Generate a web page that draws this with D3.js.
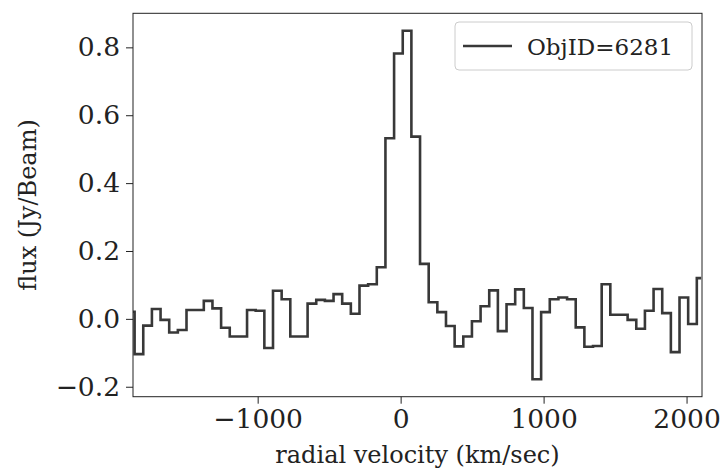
<!DOCTYPE html>
<html>
<head>
<meta charset="utf-8">
<script src="https://cdn.jsdelivr.net/npm/d3@7"></script>
<style>
  body { margin: 0; background: #fff; }
  svg { display: block; }
  text { font-family: "DejaVu Serif", serif; fill: #222; }
</style>
</head>
<body>
<svg id="chart" width="723" height="470"></svg>
<script>
// Channel centres of the spectrum (km/s)
const velocity = [
  -1891, -1830.5, -1770, -1709.5, -1649, -1588.5, -1528, -1467.5, -1407, -1346.5,
  -1286, -1225.5, -1165, -1104.5, -1044, -983.5, -923, -862.5, -802, -741.5,
  -681, -620.5, -560, -499.5, -439, -378.5, -318, -257.5, -197, -136.5,
  -76, -15.5, 45, 105.5, 166, 226.5, 287, 347.5, 408, 468.5,
  529, 589.5, 650, 710.5, 771, 831.5, 892, 952.5, 1013, 1073.5,
  1134, 1194.5, 1255, 1315.5, 1376, 1436.5, 1497, 1557.5, 1618, 1678.5,
  1739, 1799.5, 1860, 1920.5, 1981, 2041.5, 2102
];

// Flux per channel (Jy/Beam)
const flux = [
  0.021, -0.104, -0.020, 0.029, -0.003, -0.040, -0.033, 0.026, 0.026, 0.053,
  0.031, -0.026, -0.052, -0.052, 0.026, 0.024, -0.086, 0.083, 0.058, -0.052,
  -0.052, 0.045, 0.056, 0.053, 0.073, 0.045, 0.015, 0.098, 0.102, 0.152,
  0.532, 0.782, 0.849, 0.537, 0.162, 0.049, 0.020, -0.021, -0.081, -0.052,
  -0.007, 0.037, 0.084, -0.036, 0.043, 0.087, 0.032, -0.178, 0.020, 0.058,
  0.063, 0.058, -0.025, -0.082, -0.080, 0.102, 0.012, 0.012, -0.003, -0.029,
  0.024, 0.088, 0.017, -0.098, 0.063, -0.015, 0.120
];

const xTicks = [-1000, 0, 1000, 2000];
const yTicks = [-0.2, 0.0, 0.2, 0.4, 0.6, 0.8];
const xLimits = [-1872, 2108];
const seriesLabel = "ObjID=6281";
const xLabel = "radial velocity (km/sec)";
const yLabel = "flux (Jy/Beam)";

const plot = { left: 133, right: 702, top: 13.3, bottom: 396.7 };

const svg = d3.select("#chart");

// y limits padded by 5% of the data range on each side
const fMin = d3.min(flux), fMax = d3.max(flux);
const pad = (fMax - fMin) * 0.05;

const x = d3.scaleLinear().domain(xLimits).range([plot.left, plot.right]);
const y = d3.scaleLinear().domain([fMin - pad, fMax + pad]).range([plot.bottom, plot.top]);

svg.append("defs").append("clipPath").attr("id", "plotClip")
  .append("rect")
  .attr("x", plot.left).attr("y", plot.top)
  .attr("width", plot.right - plot.left).attr("height", plot.bottom - plot.top);

// spectrum as a mid-step line
const line = d3.line()
  .x((d, i) => x(velocity[i]))
  .y(d => y(d))
  .curve(d3.curveStep);

svg.append("path")
  .datum(flux)
  .attr("clip-path", "url(#plotClip)")
  .attr("d", line)
  .attr("fill", "none")
  .attr("stroke", "#383838")
  .attr("stroke-width", 2.6)
  .attr("stroke-linejoin", "miter");

// axes
const minus = s => s.replace("-", "\u2212");
const xAxis = d3.axisBottom(x).tickValues(xTicks).tickSize(7).tickPadding(5)
  .tickFormat(d => minus(d3.format("d")(d)));
const yAxis = d3.axisLeft(y).tickValues(yTicks).tickSize(7).tickPadding(6)
  .tickFormat(d => minus(d3.format(".1f")(d)));

const gx = svg.append("g").attr("transform", `translate(0,${plot.bottom})`).call(xAxis);
const gy = svg.append("g").attr("transform", `translate(${plot.left},0)`).call(yAxis);
[gx, gy].forEach(g => {
  g.select(".domain").remove();
  g.selectAll(".tick line").attr("stroke", "#222").attr("stroke-width", 1);
  g.selectAll(".tick text").attr("font-size", 26.5).attr("fill", "#222");
});

// frame
svg.append("rect")
  .attr("x", plot.left).attr("y", plot.top)
  .attr("width", plot.right - plot.left).attr("height", plot.bottom - plot.top)
  .attr("fill", "none").attr("stroke", "#222").attr("stroke-width", 1);

// axis labels
svg.append("text")
  .attr("x", (plot.left + plot.right) / 2).attr("y", 463)
  .attr("text-anchor", "middle").attr("font-size", 24)
  .text(xLabel);

svg.append("text")
  .attr("transform", `translate(36,${(plot.top + plot.bottom) / 2}) rotate(-90)`)
  .attr("text-anchor", "middle").attr("font-size", 24)
  .text(yLabel);

// legend
const lg = svg.append("g");
lg.append("rect")
  .attr("x", 455).attr("y", 22).attr("width", 237).attr("height", 48)
  .attr("rx", 4).attr("fill", "#fff").attr("fill-opacity", 0.8)
  .attr("stroke", "#cccccc").attr("stroke-width", 1);
lg.append("line")
  .attr("x1", 463).attr("x2", 512).attr("y1", 46).attr("y2", 46)
  .attr("stroke", "#383838").attr("stroke-width", 2.6);
lg.append("text")
  .attr("x", 527).attr("y", 55).attr("font-size", 23)
  .text(seriesLabel);
</script>
</body>
</html>
